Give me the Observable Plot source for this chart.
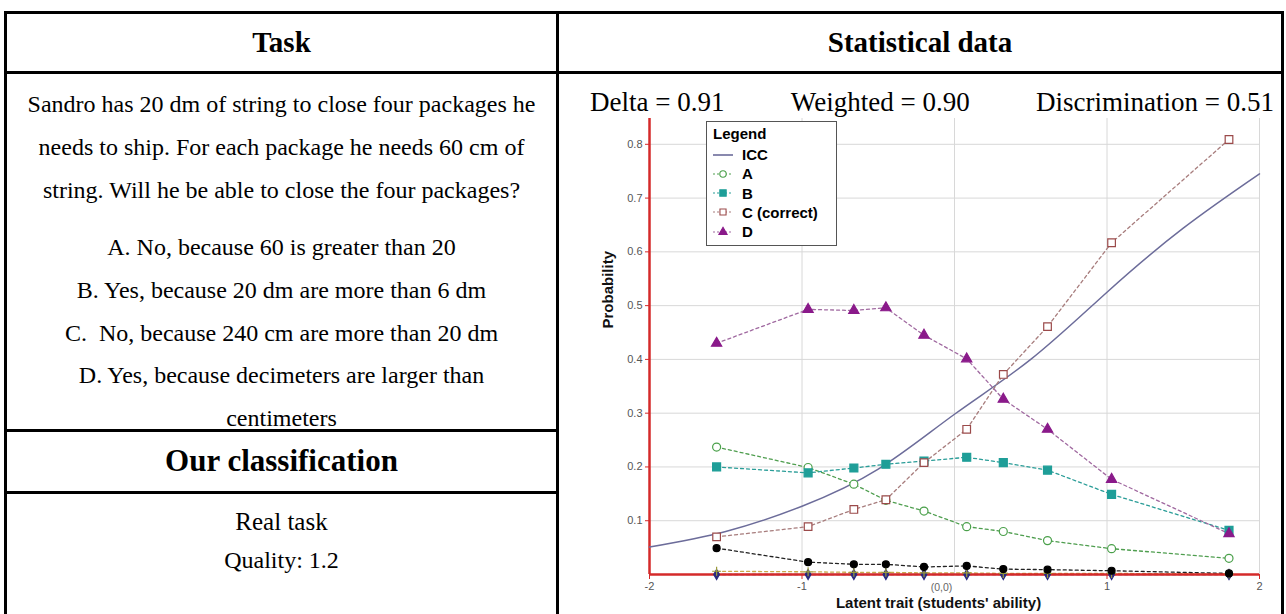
<!DOCTYPE html>
<html>
<head>
<meta charset="utf-8">
<script src="https://cdn.jsdelivr.net/npm/d3@7"></script>
<script src="https://cdn.jsdelivr.net/npm/@observablehq/plot@0.6"></script>
<style>
html,body{margin:0;padding:0;background:#fff;}
body{width:1286px;height:614px;position:relative;overflow:hidden;font-family:"Liberation Serif","Times New Roman",serif;color:#000;}
.ln{position:absolute;background:#000;}
.t{position:absolute;text-align:center;white-space:nowrap;}
.hd{font-weight:bold;font-size:29px;line-height:40px;}
.body{font-size:24px;line-height:43px;}
#stats{position:absolute;left:590px;width:684px;top:84px;height:36px;line-height:36px;font-size:27px;display:flex;justify-content:space-between;white-space:nowrap;}
#chart{position:absolute;left:560px;top:112px;}
#legend{position:absolute;left:706px;top:121px;width:129px;height:123px;border:1.5px solid #555;background:#fff;font-family:"Liberation Sans",Arial,sans-serif;font-weight:bold;font-size:15px;z-index:5;}
#legend .row{position:absolute;left:0;height:19px;line-height:19px;display:flex;align-items:center;}
#legend svg{display:block;}
</style>
</head>
<body>
<!-- table lines -->
<div class="ln" style="left:4px;top:11px;width:1280px;height:3px"></div>
<div class="ln" style="left:4px;top:71px;width:1280px;height:3px"></div>
<div class="ln" style="left:4px;top:11px;width:3px;height:603px"></div>
<div class="ln" style="left:556px;top:11px;width:3px;height:603px"></div>
<div class="ln" style="left:1281px;top:11px;width:3px;height:603px"></div>
<div class="ln" style="left:4px;top:429px;width:555px;height:3px"></div>
<div class="ln" style="left:4px;top:491px;width:555px;height:3px"></div>

<div class="t hd" style="left:7px;width:549px;top:22px">Task</div>
<div class="t hd" style="left:559px;width:722px;top:22px">Statistical data</div>

<div id="taskText"></div>

<div class="t hd" style="left:7px;width:549px;top:441px;font-size:31px">Our classification</div>
<div class="t" style="left:7px;width:549px;top:505px;font-size:25px;line-height:34px">Real task</div>
<div class="t" style="left:7px;width:549px;top:543px;font-size:24px;line-height:34px">Quality: 1.2</div>

<div id="stats"></div>
<div id="chart"></div>
<div id="legend"></div>

<script>
// ---------- texts ----------
const taskLines = [
  "Sandro has 20 dm of string to close four packages he",
  "needs to ship. For each package he needs 60 cm of",
  "string. Will he be able to close the four packages?"
];
const answerLines = [
  "A. No, because 60 is greater than 20",
  "B. Yes, because 20 dm are more than 6 dm",
  "C.\u00a0 No, because 240 cm are more than 20 dm",
  "D. Yes, because decimeters are larger than",
  "centimeters"
];
const statLabels = ["Delta = 0.91", "Weighted = 0.90", "Discrimination = 0.51"];

// ---------- data ----------
const abilityX = [-1.56, -0.96, -0.66, -0.45, -0.20, 0.08, 0.32, 0.61, 1.03, 1.80];
const probA = [0.237, 0.199, 0.168, 0.138, 0.118, 0.089, 0.080, 0.063, 0.048, 0.030];
const probB = [0.200, 0.189, 0.198, 0.205, 0.211, 0.218, 0.208, 0.194, 0.149, 0.082];
const probC = [0.070, 0.089, 0.121, 0.139, 0.208, 0.270, 0.372, 0.461, 0.617, 0.809];
const probD = [0.430, 0.493, 0.491, 0.496, 0.445, 0.401, 0.326, 0.270, 0.177, 0.076];
const probMissing = [0.049, 0.023, 0.019, 0.019, 0.014, 0.016, 0.010, 0.009, 0.007, 0.002];
const probInvalid = [0.006, 0.005, 0.004, 0.004, 0.003, 0.003, 0.002, 0.002, 0.002, 0.001];
const probOther = [0.000, 0.000, 0.000, 0.000, 0.000, 0.000, 0.000, 0.000, 0.000, 0.000];
const iccX = [-2, -1.5, -1, -0.5, 0, 0.5, 1, 1.5, 2];
const iccY = [0.051, 0.080, 0.127, 0.196, 0.298, 0.400, 0.525, 0.644, 0.745];
const yTicks = [0.1, 0.2, 0.3, 0.4, 0.5, 0.6, 0.7, 0.8];
const xTicks = [-2, -1, 1, 2];
const xGrid = [-1, 0, 1, 2];
const legendNames = ["ICC", "A", "B", "C (correct)", "D"];

// ---------- left text ----------
const tt = document.getElementById("taskText");
const tops = [104, 147, 190, 247, 290, 333, 375, 418];
[...taskLines, ...answerLines].forEach((s, i) => {
  const d = document.createElement("div");
  d.className = "t body";
  d.style.left = "7px"; d.style.width = "549px";
  d.style.top = (tops[i] - 21.5) + "px";
  d.textContent = s;
  tt.appendChild(d);
});
const st = document.getElementById("stats");
statLabels.forEach(s => { const sp = document.createElement("span"); sp.textContent = s; st.appendChild(sp); });

// ---------- chart ----------
const rows = vals => abilityX.map((x, i) => ({x, y: vals[i]}));
const icc = iccX.map((x, i) => ({x, y: iccY[i]}));
const RED = "#d42a2a";
const series = [
  {vals: probOther, line: "#3a3a8a", symbol: "diamond", fill: "#2a2a80", stroke: "#2a2a80", r: 3},
  {vals: probInvalid, line: "#c9a84a", symbol: "plus", fill: "none", stroke: "#9a9a3a", r: 3},
  {vals: probMissing, line: "#222", symbol: "circle", fill: "#000", stroke: "#000", r: 3.5},
  {vals: probA, line: "#4f9e4f", symbol: "circle", fill: "#fff", stroke: "#4aa04a", r: 4},
  {vals: probB, line: "#2a9d98", symbol: "square", fill: "#1f9e98", stroke: "#1f9e98", r: 4.5},
  {vals: probC, line: "#a77c7c", symbol: "square", fill: "#fff", stroke: "#9b4a4a", r: 4.3},
  {vals: probD, line: "#a069a0", symbol: "triangle", fill: "#8a1a8a", stroke: "#8a1a8a", r: 3.8}
];
const sans = "Liberation Sans, Arial, sans-serif";
const marks = [
  Plot.gridY(yTicks, {stroke: "#d8d8d8", strokeOpacity: 1}),
  Plot.gridX(xGrid, {stroke: "#d8d8d8", strokeOpacity: 1}),
  Plot.ruleX([-2], {stroke: RED, strokeWidth: 2.5}),
  Plot.line(icc, {x: "x", y: "y", curve: "natural", stroke: "#6c6c9a", strokeWidth: 1.5})
];
series.forEach(s => {
  marks.push(Plot.line(rows(s.vals), {x: "x", y: "y", stroke: s.line, strokeWidth: 1.3, strokeDasharray: "3,3"}));
});
marks.push(Plot.ruleY([0], {stroke: RED, strokeWidth: 2.5}));
series.forEach(s => {
  marks.push(Plot.dot(rows(s.vals), {x: "x", y: "y", symbol: s.symbol, r: s.r, fill: s.fill, stroke: s.stroke, strokeWidth: 1.2}));
});
marks.push(
  Plot.axisY(yTicks, {tickSize: 4, tickPadding: 3, stroke: RED, fill: "#555", fontSize: 11, fontFamily: sans, tickFormat: d => d.toFixed(1), label: null}),
  Plot.axisX(xTicks, {tickSize: 5, tickPadding: 3, stroke: RED, fill: "#555", fontSize: 11, fontFamily: sans, tickFormat: d => d < 0 ? "-" + (-d) : String(d), label: null}),
  Plot.text([{x: 0, y: 0, t: "(0,0)"}], {x: "x", y: "y", text: "t", dx: -13, dy: 13, fill: "#666", fontSize: 10.5, fontFamily: sans}),
  Plot.text(["Probability"], {text: d => d, frameAnchor: "left", dx: -41.5, dy: -18, rotate: -90, fontWeight: "bold", fontSize: 15, fontFamily: sans, fill: "#111"}),
  Plot.text(["Latent trait (students' ability)"], {text: d => d, frameAnchor: "bottom", dx: -16, dy: 33, fontWeight: "bold", fontSize: 15, fontFamily: sans, fill: "#111"})
);
const chart = Plot.plot({
  width: 720, height: 502,
  marginLeft: 89, marginRight: 21, marginTop: 6, marginBottom: 40,
  x: {domain: [-2, 2]},
  y: {domain: [0, 0.848]},
  style: {background: "transparent", overflow: "visible"},
  marks
});
document.getElementById("chart").appendChild(chart);

// ---------- legend ----------
const lg = document.getElementById("legend");
const title = document.createElement("div");
title.className = "row"; title.style.top = "2px"; title.style.left = "6px";
title.textContent = "Legend";
lg.appendChild(title);
const legStyles = [
  {kind: "line", color: "#6c6c9a"},
  series[3], series[4], series[5], series[6]
];
legendNames.forEach((name, i) => {
  const r = document.createElement("div");
  r.className = "row"; r.style.top = (23 + i * 19.3) + "px"; r.style.left = "5px";
  const s = legStyles[i];
  let svg;
  if (s.kind === "line") {
    svg = `<svg width="24" height="14"><line x1="1" x2="21" y1="7" y2="7" stroke="${s.color}" stroke-width="1.6"/></svg>`;
  } else {
    const sym = d3.symbol({circle: d3.symbolCircle, square: d3.symbolSquare, triangle: d3.symbolTriangle}[s.symbol], Math.PI * (s.r * 0.8) ** 2)();
    svg = `<svg width="24" height="14"><line x1="1" x2="21" y1="7" y2="7" stroke="${s.line}" stroke-width="1.2" stroke-dasharray="2,2"/><path d="${sym}" transform="translate(11,7)" fill="${s.fill}" stroke="${s.stroke}" stroke-width="1.1"/></svg>`;
  }
  r.innerHTML = svg + `<span style="margin-left:6px">${name}</span>`;
  lg.appendChild(r);
});
</script>
</body>
</html>
